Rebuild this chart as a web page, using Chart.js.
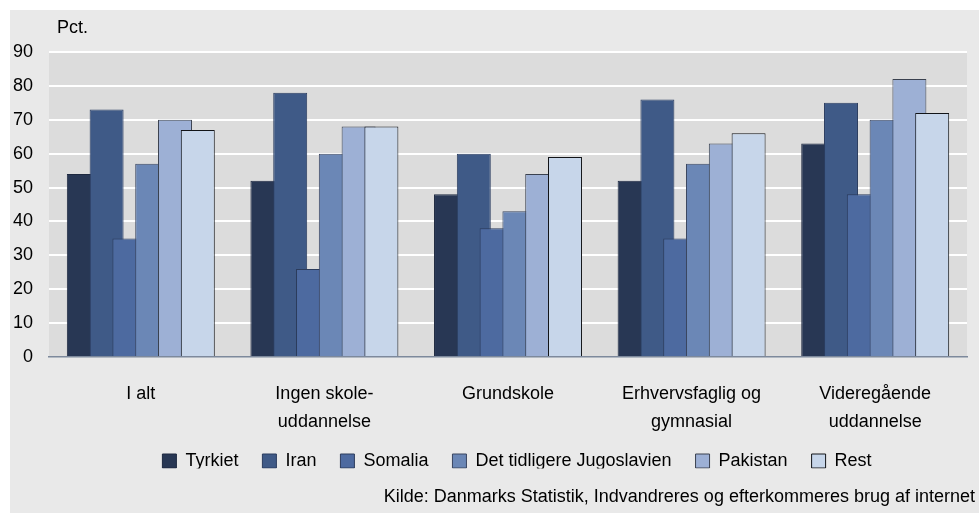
<!DOCTYPE html>
<html>
<head>
<meta charset="utf-8">
<script src="https://cdn.jsdelivr.net/npm/chart.js@4/dist/chart.umd.min.js"></script>
<style>
  body { margin: 0; background: #fff; }
  #wrap { position: absolute; left: 10px; top: 10px; width: 969px; height: 503px; }
  #chart { background: #e9e9e9; }
</style>
</head>
<body>
<div id="wrap"><canvas id="chart" width="969" height="503"></canvas></div>
<script>
// categories (multi-line like in the original)
const categories = [
  ['I alt'],
  ['Ingen skole-', 'uddannelse'],
  ['Grundskole'],
  ['Erhvervsfaglig og', 'gymnasial'],
  ['Videregående', 'uddannelse']
];

// Pct. per country of origin
const tyrkiet = [54, 52, 48, 52, 63];
const iran = [73, 78, 60, 76, 75];
const somalia = [35, 26, 38, 35, 48];
const jugoslavien = [57, 60, 43, 57, 70];
const pakistan = [70, 68, 54, 63, 82];
const rest = [67, 68, 59, 66, 72];

const yTicks = [0, 10, 20, 30, 40, 50, 60, 70, 80, 90];
const sourceText = 'Kilde: Danmarks Statistik, Indvandreres og efterkommeres brug af internet';

const FONT = '"Liberation Sans", Arial, sans-serif';

const series = [
  { label: 'Tyrkiet', data: tyrkiet, fill: '#283754', border: '#1e2940' },
  { label: 'Iran', data: iran, fill: '#3f5a87', border: '#2b3d60' },
  { label: 'Somalia', data: somalia, fill: '#4d6aa0', border: '#2c3c5c' },
  { label: 'Det tidligere Jugoslavien', data: jugoslavien, fill: '#6b87b6', border: '#3a4660' },
  { label: 'Pakistan', data: pakistan, fill: '#9db0d5', border: '#3a414f' },
  { label: 'Rest', data: rest, fill: '#c7d6ea', border: '#121418' }
];

// plot area fill, later bars on top, Pct. label, box tweaks
const chartDecor = {
  id: 'chartDecor',
  beforeUpdate(chart) {
    const lg = chart.legend;
    if (lg && !lg._patched) {
      const fit = lg.fit;
      lg.fit = function () {
        fit.call(this);
        this.height = 40.4;
      };
      lg._patched = true;
    }
  },
  afterLayout(chart) {
    if (chart.legend) {
      chart.legend.left += 57;
      chart.legend.top -= 9;
      chart.legend.bottom -= 9;
    }
    if (chart.titleBlock) chart.titleBlock.right += 8;
  },
  beforeDraw(chart) {
    const { ctx, chartArea: a } = chart;
    ctx.save();
    ctx.fillStyle = '#dcdcdc';
    ctx.fillRect(a.left, a.top, a.right - a.left, a.bottom - a.top);
    ctx.restore();
  },
  beforeDatasetsDraw(chart) {
    // draw in dataset order so the right-hand bars overlap the left ones
    const metas = chart.getSortedVisibleDatasetMetas();
    metas.forEach(m => m.controller.draw());
    return false;
  },
  afterDraw(chart) {
    const ctx = chart.ctx;
    ctx.save();
    ctx.font = '18px ' + FONT;
    ctx.fillStyle = '#000';
    ctx.textAlign = 'left';
    ctx.textBaseline = 'middle';
    ctx.fillText('Pct.', 47, 18);
    ctx.restore();
  }
};

new Chart(document.getElementById('chart'), {
  type: 'bar',
  data: {
    labels: categories,
    datasets: series.map(s => ({
      label: s.label,
      data: s.data,
      backgroundColor: s.fill,
      borderColor: s.border,
      borderWidth: 1,
      categoryPercentage: 0.745,
      barPercentage: 1.49
    }))
  },
  options: {
    responsive: false,
    animation: false,
    devicePixelRatio: 1,
    layout: { padding: { top: 42, right: 12, bottom: 0, left: 0 } },
    scales: {
      x: {
        grid: { display: false },
        border: { display: true, color: '#7d899c', width: 1.5 },
        ticks: {
          color: '#000',
          font: { family: FONT, size: 18, lineHeight: 1.556 },
          padding: 15,
          maxRotation: 0,
          autoSkip: false
        },
        afterFit(scale) { scale.height = 80; }
      },
      y: {
        min: 0,
        max: 90,
        afterBuildTicks(scale) { scale.ticks = yTicks.map(v => ({ value: v })); },
        grid: {
          color: ctx => (ctx.tick && ctx.tick.value === 0 ? 'rgba(0,0,0,0)' : '#ffffff'),
          lineWidth: 2,
          drawTicks: false
        },
        border: { display: false },
        ticks: {
          color: '#000',
          font: { family: FONT, size: 18 },
          padding: 16
        },
        afterFit(scale) { scale.width = 39; }
      }
    },
    plugins: {
      legend: {
        position: 'bottom',
        labels: {
          color: '#000',
          font: { family: FONT, size: 18 },
          boxWidth: 14,
          boxHeight: 14,
          padding: 24
        }
      },
      title: {
        display: true,
        position: 'bottom',
        align: 'end',
        text: sourceText,
        color: '#000',
        font: { family: FONT, size: 18, weight: 'normal' },
        padding: { top: 9, bottom: 5 }
      },
      tooltip: { enabled: false }
    }
  },
  plugins: [chartDecor]
});
</script>
</body>
</html>
